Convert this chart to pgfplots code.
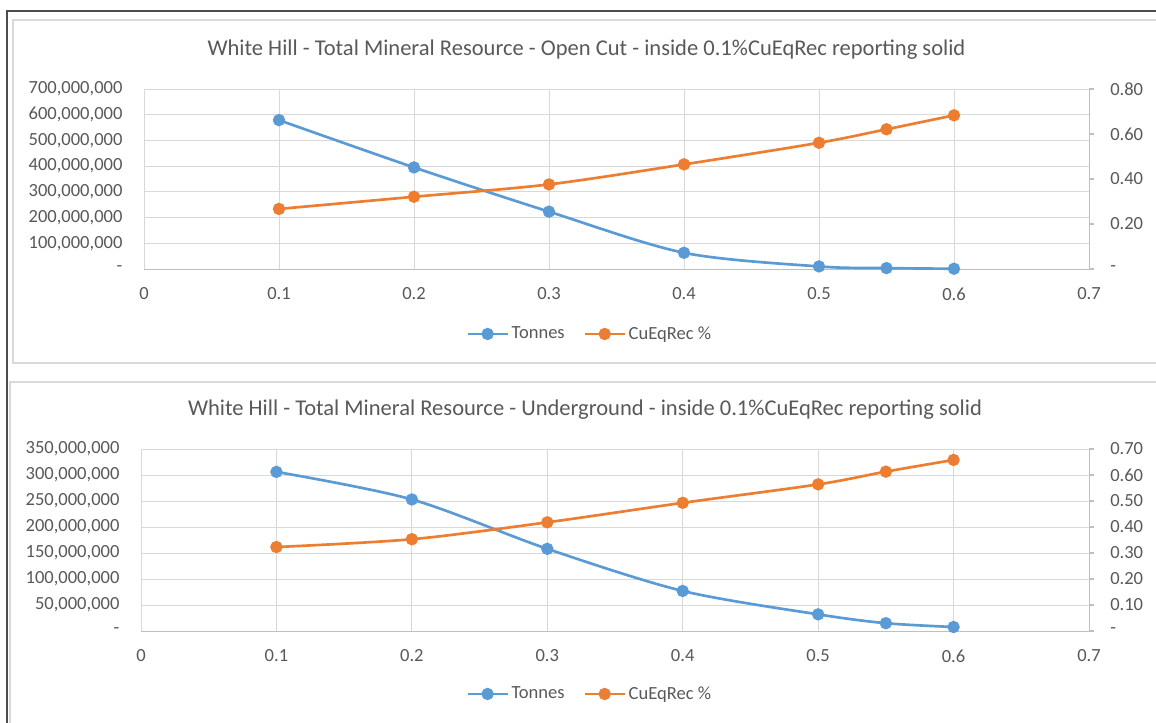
\documentclass[border=0pt]{standalone}
\usepackage{pgfplots}
\pgfplotsset{compat=1.18}
\usepackage{fontspec}
\setmainfont{Carlito}

\definecolor{tblue}{HTML}{5B9BD5}
\definecolor{torange}{HTML}{ED7D31}
\definecolor{txtgray}{HTML}{595959}
\definecolor{gridgray}{HTML}{D9D9D9}
\definecolor{axgray}{HTML}{BFBFBF}

% data, x = cut-off grade
\pgfplotstableread{
cut tonnes cueq
0.10 579000000 0.267
0.20 395000000 0.321
0.30 223000000 0.376
0.40 63000000  0.465
0.50 10000000  0.561
0.55 3500000   0.621
0.60 1000000   0.683
}\opencut
\pgfplotstableread{
cut tonnes cueq
0.10 306000000 0.323
0.20 253000000 0.353
0.30 158000000 0.418
0.40 77000000  0.493
0.50 32000000  0.564
0.55 15000000  0.613
0.60 7700000   0.658
}\underground

\pgfplotsset{
  basefont/.style={font=\fontsize{13.9}{16}\selectfont, text=txtgray},
  leftax/.style={
    scale only axis,
    scaled y ticks=false,
    xmin=0, xmax=0.7,
    xtick={0,0.1,...,0.7},
    xticklabels={0,0.1,0.2,0.3,0.4,0.5,0.6,0.7},
    axis x line*=bottom, axis y line*=left,
    x axis line style={axgray,-},
    y axis line style={gridgray,-},
    xmajorgrids, ymajorgrids,
    grid style={gridgray, line width=0.7pt},
    major tick length=0pt,
    tick style={draw=none},
    ticklabel style={basefont},
    yticklabel style={anchor=east, inner sep=0pt, xshift=-16pt},
    xticklabel style={anchor=north, inner sep=0pt, yshift=-14pt},
    clip=false,
  },
  rightax/.style={
    scale only axis,
    xmin=0, xmax=0.7, xtick=\empty,
    axis x line=none, axis y line*=right,
    y axis line style={axgray,-},
    tick align=outside,
    major tick length=3.75pt,
    ytick style={axgray, line width=0.8pt},
    yticklabel style={basefont, anchor=west, inner sep=0pt, xshift=12pt},
    legend columns=-1,
    legend style={draw=none, fill=none, basefont, anchor=center,
      /tikz/every even column/.append style={column sep=12pt}},
    legend image code/.code={
      \draw[mark repeat=2, mark phase=2] plot coordinates {(0pt,0pt) (15pt,0pt) (30pt,0pt)};},
    clip=false,
  },
  bl/.style={tblue, line width=2pt, smooth, mark=*, mark size=3.6pt, mark options={solid, fill=tblue, draw=tblue}},
  or/.style={torange, line width=2pt, smooth, mark=*, mark size=3.6pt, mark options={solid, fill=torange, draw=torange}},
}

\begin{document}
\begin{tikzpicture}
\path[use as bounding box] (0pt,0pt) rectangle (867pt,541.5pt);
\fill[white] (0pt,0pt) rectangle (867pt,541.5pt);
% frames
\draw[gridgray, line width=1pt] (870pt,526.5pt) -- (9.75pt,526.5pt) -- (9.75pt,269.25pt) -- (870pt,269.25pt);
\draw[gridgray, line width=1pt] (870pt,255pt) -- (7.5pt,255pt) -- (7.5pt,-5pt);
\draw[black!70, line width=1.5pt] (5.25pt,-5pt) -- (5.25pt,533.25pt) -- (870pt,533.25pt);

% titles
\node[font=\fontsize{16.9}{20}\selectfont, text=txtgray] at (439.9pt,504pt)
  {White Hill - Total Mineral Resource - Open Cut - inside 0.1\%CuEqRec reporting solid};
\node[font=\fontsize{16.9}{20}\selectfont, text=txtgray] at (438.75pt,234pt)
  {White Hill - Total Mineral Resource - Underground - inside 0.1\%CuEqRec reporting solid};

% ---- open cut ----
\begin{axis}[leftax, at={(108pt,339.75pt)}, anchor=south west,
  width=708.75pt, height=135pt,
  ymin=0, ymax=700000000,
  ytick={0,100000000,200000000,300000000,400000000,500000000,600000000,700000000},
  yticklabels={-,{100,000,000},{200,000,000},{300,000,000},{400,000,000},{500,000,000},{600,000,000},{700,000,000}},
  ]
\addplot[bl] table[x=cut, y=tonnes] {\opencut};
\end{axis}
\begin{axis}[rightax, at={(108pt,339.75pt)}, anchor=south west,
  width=708.75pt, height=135pt,
  ymin=0, ymax=0.8,
  ytick={0,0.2,0.4,0.6,0.8},
  yticklabels={-,0.20,0.40,0.60,0.80},
  legend style={at={(0.472,-0.361)}},
  ]
\addlegendimage{bl}
\addlegendentry{Tonnes}
\addplot[or] table[x=cut, y=cueq] {\opencut};
\addlegendentry{CuEqRec \%}
\end{axis}

% ---- underground ----
\begin{axis}[leftax, at={(105.75pt,68.25pt)}, anchor=south west,
  width=711pt, height=136.5pt,
  ymin=0, ymax=350000000,
  ytick={0,50000000,100000000,150000000,200000000,250000000,300000000,350000000},
  yticklabels={-,{50,000,000},{100,000,000},{150,000,000},{200,000,000},{250,000,000},{300,000,000},{350,000,000}},
  ]
\addplot[bl] table[x=cut, y=tonnes] {\underground};
\end{axis}
\begin{axis}[rightax, at={(105.75pt,68.25pt)}, anchor=south west,
  width=711pt, height=136.5pt,
  ymin=0, ymax=0.7,
  ytick={0,0.1,0.2,0.3,0.4,0.5,0.6,0.7},
  yticklabels={-,0.10,0.20,0.30,0.40,0.50,0.60,0.70},
  legend style={at={(0.4736,-0.346)}},
  ]
\addlegendimage{bl}
\addlegendentry{Tonnes}
\addplot[or] table[x=cut, y=cueq] {\underground};
\addlegendentry{CuEqRec \%}
\end{axis}
\end{tikzpicture}
\end{document}
